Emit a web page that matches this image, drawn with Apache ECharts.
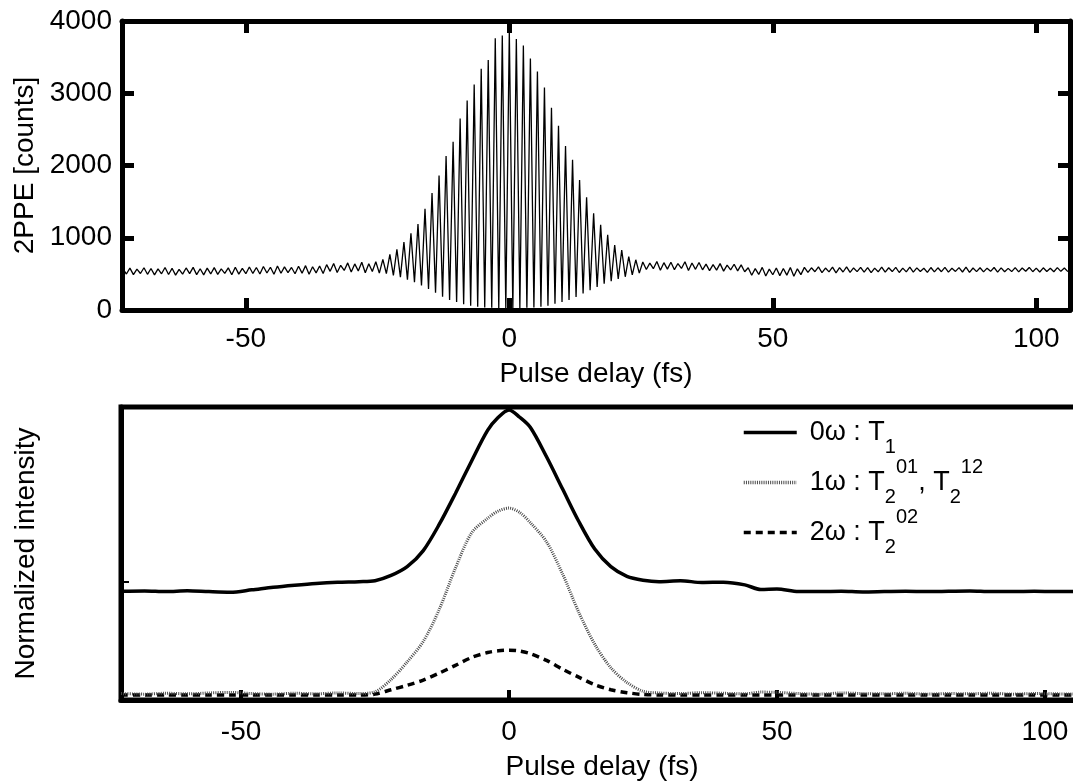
<!DOCTYPE html>
<html><head><meta charset="utf-8">
<script src="https://cdn.jsdelivr.net/npm/echarts@6/dist/echarts.min.js"></script>
<style>html,body{margin:0;padding:0;background:#fff;overflow:hidden;width:1073px;height:782px}#c{width:1095px;height:782px}</style>
</head><body><div id="c"></div>
<script>
// ---------- top panel: interferometric 2PPE trace (one peak + one trough per fringe) ----------
const fringePeriod = 1.3333;   // fs
const firstFringe = -55;       // index of first fringe (delay = index * period)
const peakCounts = [
  572, 580, 566, 585, 574, 569, 588, 577, 563, 582, 590, 571, 579, 586, 568, 583, 592, 575,
  596, 588, 603, 592, 610, 597, 589, 606, 614, 598, 608,
  628, 645, 619, 652, 638, 660, 641, 668,
  700, 770, 840, 940, 1060, 1190, 1400, 1620, 1860, 2130, 2330, 2650, 2900, 3120, 3340, 3460, 3760, 3800,
  3850,
  3750, 3660, 3480, 3300, 3080, 2800, 2550, 2270, 2080, 1800, 1560, 1340, 1180, 1040, 900, 830, 740, 695,
  665, 648, 672, 655, 660, 643, 668, 650, 657,
  635, 628, 642, 620, 633, 625,
  585, 572, 590, 566, 582, 575, 588, 570,
  590, 584, 596, 581, 593, 587, 598, 582, 591, 586, 579, 594, 585, 589, 580, 592, 583, 578, 588,
  584, 590, 577, 586, 592, 581, 585, 579, 588, 583, 576, 587, 582, 589, 580, 584, 578, 586, 581
];
const troughCounts = [
  498, 489, 505, 494, 486, 501, 492, 483, 497, 503, 490, 486, 499, 493, 507, 488, 496, 502,
  506, 498, 512, 495, 509, 517, 501, 510, 496, 514, 505,
  535, 520, 548, 527, 541, 515, 532, 510,
  505, 480, 455, 420, 385, 340, 290, 240, 185, 140, 110, 80, 60, 45, 35, 30, 25, 20,
  20,
  25, 30, 35, 45, 60, 85, 110, 140, 180, 230, 275, 320, 365, 400, 430, 460, 485, 510,
  560, 572, 551, 566, 558, 575, 548, 563, 556,
  545, 552, 538, 556, 541, 530,
  480, 492, 470, 488, 476, 483, 468, 490,
  522, 530, 518, 527, 515, 526, 520, 531, 524, 517, 529, 523, 532, 519, 528, 525, 533, 521, 527,
  530, 524, 534, 526, 520, 531, 528, 535, 525, 529, 532, 527, 536, 530, 526, 533, 529, 535, 531
];
const xTickValues = [-50, 0, 50, 100];

// ---------- bottom panel: normalized intensities ----------
const lowerDelays = [-72.4, -68, -64, -60, -56, -52, -48, -44, -40, -36, -32, -28, -25, -22, -19, -16, -13, -10, -7, -4, -2, 0,
  2, 4, 7, 10, 13, 16, 19, 22, 25, 28, 32, 36, 40, 44, 47, 50, 54, 58, 62, 66, 70, 74, 78, 82, 86, 90, 94, 98, 102, 107];
const t1Values = [0.371, 0.372, 0.370, 0.373, 0.370, 0.368, 0.376, 0.385, 0.392, 0.398, 0.402, 0.404, 0.407, 0.425, 0.455, 0.51, 0.60, 0.705, 0.815, 0.92, 0.965, 0.99,
  0.965, 0.93, 0.83, 0.72, 0.61, 0.515, 0.455, 0.422, 0.409, 0.404, 0.407, 0.401, 0.402, 0.393, 0.377, 0.379, 0.370, 0.370, 0.371, 0.369, 0.370, 0.371, 0.370, 0.371, 0.372, 0.370, 0.370, 0.371, 0.370, 0.370];
const w1Values = [0.022, 0.020, 0.023, 0.021, 0.024, 0.026, 0.022, 0.020, 0.023, 0.021, 0.024, 0.022, 0.028, 0.07, 0.13, 0.20, 0.31, 0.45, 0.57, 0.62, 0.645, 0.655,
  0.64, 0.605, 0.54, 0.43, 0.30, 0.19, 0.11, 0.06, 0.03, 0.024, 0.022, 0.025, 0.023, 0.021, 0.027, 0.026, 0.022, 0.020, 0.024, 0.022, 0.021, 0.023, 0.020, 0.022, 0.021, 0.023, 0.020, 0.022, 0.021, 0.020];
const w2Values = [0.017, 0.017, 0.017, 0.017, 0.017, 0.017, 0.017, 0.017, 0.017, 0.017, 0.017, 0.017, 0.02, 0.035, 0.05, 0.068, 0.092, 0.118, 0.145, 0.162, 0.168, 0.17,
  0.167, 0.158, 0.135, 0.105, 0.078, 0.052, 0.035, 0.025, 0.019, 0.017, 0.017, 0.017, 0.017, 0.017, 0.017, 0.017, 0.017, 0.017, 0.017, 0.017, 0.017, 0.017, 0.017, 0.017, 0.017, 0.017, 0.017, 0.017, 0.017, 0.017];
const seriesNames = ['0ω : T1', '1ω : T2 01, T2 12', '2ω : T2 02'];
const legendRich = {};
legendRich[seriesNames[0]] = '{m0|0ω : T}{sb|1}';
legendRich[seriesNames[1]] = '{m0|1ω : T}{sb|2}{sp|01}{m|, T}{sb|2}{sp|12}';
legendRich[seriesNames[2]] = '{m0|2ω : T}{sb|2}{sp|02}';

// ---------- build ----------
const topData = [];
for (let i = 0; i < peakCounts.length; i++) {
  const n = firstFringe + i;
  topData.push([n * fringePeriod, peakCounts[i]]);
  topData.push([(n + 0.5) * fringePeriod, troughCounts[i]]);
}
const pair = (vals) => lowerDelays.map((d, i) => [d, vals[i]]);

const font = 'Arial, "Liberation Sans", Helvetica, sans-serif';
const black = '#000';
const txt = {color: black, fontFamily: font};
const plain = (v) => String(v);

const chart = echarts.init(document.getElementById('c'), null, {renderer: 'canvas'});
chart.setOption({
  animation: false,
  backgroundColor: '#fff',
  grid: [
    {left: 122, top: 21, width: 948, height: 289, show: false},
    {left: 121, top: 407, width: 962, height: 295, show: true, borderColor: black, borderWidth: 5, backgroundColor: 'transparent'}
  ],
  xAxis: [
    {gridIndex: 0, type: 'value', min: -73.5, max: 106.4, position: 'bottom',
      axisLine: {show: true, onZero: false, lineStyle: {color: black, width: 5}},
      axisTick: {show: true, inside: true, length: 12, customValues: xTickValues, lineStyle: {color: black, width: 5}},
      axisLabel: {customValues: xTickValues, fontSize: 28, margin: 15, formatter: plain, ...txt},
      splitLine: {show: false},
      name: 'Pulse delay (fs)', nameLocation: 'middle', nameGap: 50,
      nameTextStyle: {fontSize: 28, ...txt}},
    {gridIndex: 0, type: 'value', min: -73.5, max: 106.4, position: 'top',
      axisLine: {show: true, onZero: false, lineStyle: {color: black, width: 5}},
      axisTick: {show: true, inside: true, length: 12, customValues: xTickValues, lineStyle: {color: black, width: 5}},
      axisLabel: {show: false}, splitLine: {show: false}},
    {gridIndex: 1, type: 'value', min: -72.4, max: 107.1, position: 'bottom',
      axisLine: {show: true, onZero: false, lineStyle: {color: black, width: 5}},
      axisTick: {show: true, inside: true, length: 10, customValues: xTickValues, lineStyle: {color: black, width: 4}},
      axisLabel: {customValues: xTickValues, fontSize: 28, margin: 18, formatter: plain, ...txt},
      splitLine: {show: false},
      name: 'Pulse delay (fs)', nameLocation: 'middle', nameGap: 53,
      nameTextStyle: {fontSize: 28, ...txt, padding: [0, 0, 0, 0]}, nameTruncate: {}}
  ],
  yAxis: [
    {gridIndex: 0, type: 'value', min: 0, max: 4000, interval: 1000, position: 'left',
      axisLine: {show: true, onZero: false, lineStyle: {color: black, width: 5}},
      axisTick: {show: true, inside: true, length: 12, lineStyle: {color: black, width: 5}},
      axisLabel: {fontSize: 28, margin: 10, formatter: plain, ...txt},
      splitLine: {show: false},
      name: '2PPE [counts]', nameLocation: 'middle', nameGap: 82,
      nameTextStyle: {fontSize: 28, ...txt}},
    {gridIndex: 0, type: 'value', min: 0, max: 4000, interval: 1000, position: 'right',
      axisLine: {show: true, onZero: false, lineStyle: {color: black, width: 5}},
      axisTick: {show: true, inside: true, length: 12, lineStyle: {color: black, width: 5}},
      axisLabel: {show: false}, splitLine: {show: false}},
    {gridIndex: 1, type: 'value', min: 0, max: 1, position: 'left',
      axisLine: {show: true, onZero: false, lineStyle: {color: black, width: 5}},
      axisTick: {show: true, inside: true, length: 8, customValues: [0.403], lineStyle: {color: black, width: 2}},
      axisLabel: {show: false}, splitLine: {show: false},
      name: 'Normalized intensity', nameLocation: 'middle', nameGap: 81,
      nameTextStyle: {fontSize: 28, ...txt}}
  ],
  legend: {
    data: seriesNames, orient: 'vertical', left: 737, top: 414, itemGap: 0,
    itemWidth: 53, itemHeight: 14,
    itemStyle: {opacity: 0},
    lineStyle: {width: 3.5},
    formatter: (name) => legendRich[name],
    textStyle: {
      color: black, fontFamily: font, fontSize: 27,
      rich: {
        m0: {fontSize: 27, lineHeight: 50, verticalAlign: 'middle', padding: [0, 0, 0, 8], color: black, fontFamily: font},
        m: {fontSize: 27, lineHeight: 50, verticalAlign: 'middle', color: black, fontFamily: font},
        sb: {fontSize: 20, lineHeight: 36, verticalAlign: 'bottom', color: black, fontFamily: font},
        sp: {fontSize: 20, lineHeight: 10, verticalAlign: 'top', color: black, fontFamily: font}
      }
    }
  },
  series: [
    {type: 'line', xAxisIndex: 0, yAxisIndex: 0, data: topData, showSymbol: false, symbol: 'none',
      lineStyle: {color: black, width: 1.3}, silent: true},
    {name: seriesNames[0], type: 'line', xAxisIndex: 2, yAxisIndex: 2, data: pair(t1Values), smooth: 0.3,
      symbol: 'none', itemStyle: {color: black}, lineStyle: {color: black, width: 3.5}, z: 3},
    {name: seriesNames[1], type: 'line', xAxisIndex: 2, yAxisIndex: 2, data: pair(w1Values), smooth: 0.3,
      symbol: 'none', itemStyle: {color: '#4a4a4a'}, lineStyle: {color: '#4a4a4a', width: 3, type: [1, 1.2]}, z: 4},
    {name: seriesNames[2], type: 'line', xAxisIndex: 2, yAxisIndex: 2, data: pair(w2Values), smooth: 0.3,
      symbol: 'none', itemStyle: {color: black}, lineStyle: {color: black, width: 3.5, type: [7, 5]}, z: 3}
  ]
});
</script></body></html>
